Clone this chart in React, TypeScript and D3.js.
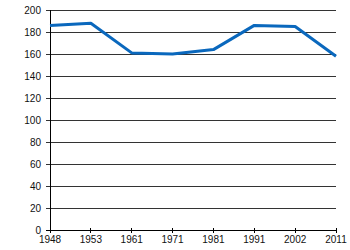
import React from "react";
import * as d3 from "d3";

const years = ["1948", "1953", "1961", "1971", "1981", "1991", "2002", "2011"];
const values = [186, 188, 161, 160, 164, 186, 185, 158];
const yTicks = [0, 20, 40, 60, 80, 100, 120, 140, 160, 180, 200];

export default function App() {
  const W = 350, H = 250;
  const left = 50, right = 336, top = 10, bottom = 230;
  const x = d3.scalePoint<string>().domain(years).range([left, right]);
  const y = d3.scaleLinear().domain([0, 200]).range([bottom, top]);
  const line = d3
    .line<number>()
    .x((_, i) => x(years[i]) as number)
    .y((d) => y(d));
  const font = "'Liberation Sans', Arial, sans-serif";
  return (
    <svg width={W} height={H} style={{ position: "absolute", left: 0, top: 0, background: "#fff" }}>
      {yTicks.map((t) => (
        <g key={t}>
          <line x1={left - 4} x2={right} y1={y(t)} y2={y(t)} stroke={t === 0 ? "#000" : "#333"} strokeWidth={1} shapeRendering="crispEdges" />
          <text x={left - 9} y={y(t)} dy="0.35em" textAnchor="end" fontSize={10} fontFamily={font} fill="#111">{t}</text>
        </g>
      ))}
      <line x1={left} x2={left} y1={top} y2={bottom} stroke="#000" shapeRendering="crispEdges" />
      {years.map((yr) => (
        <g key={yr}>
          <line x1={x(yr)} x2={x(yr)} y1={bottom - 2} y2={bottom + 3} stroke="#000" shapeRendering="crispEdges" />
          <text x={x(yr)} y={bottom + 13} textAnchor="middle" fontSize={10} fontFamily={font} fill="#111">{yr}</text>
        </g>
      ))}
      <path d={line(values) || ""} fill="none" stroke="#0a68bd" strokeWidth={3} strokeLinejoin="round" />
    </svg>
  );
}
